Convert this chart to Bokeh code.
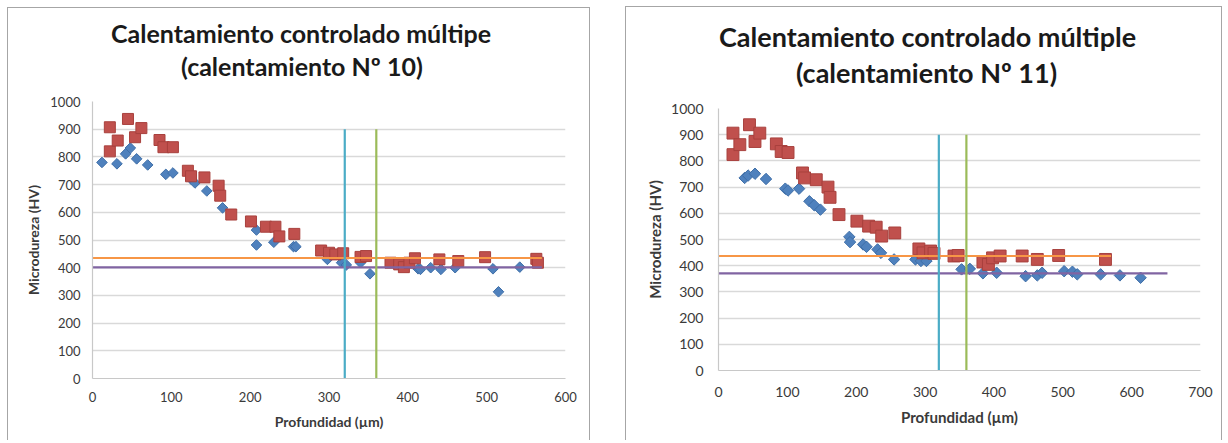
import numpy as np
from bokeh.plotting import figure
from bokeh.models import Range1d, FixedTicker, Title
from bokeh.embed import file_html
from bokeh.resources import INLINE

# ---------------- data: calentamiento Nº 10 ----------------
c10_title = ["Calentamiento controlado múltipe", "(calentamiento Nº 10)"]
c10_blue_x = [12, 31, 42, 48, 56, 70, 93, 102, 125, 130, 145, 165, 208, 208, 230, 255, 258,
              298, 316, 322, 340, 352, 413, 416, 429, 442, 460, 508, 515, 542]
c10_blue_y = [780, 775, 811, 832, 793, 771, 737, 742, 720, 706, 677, 616, 536, 482, 492, 476, 476,
              430, 418, 410, 418, 378, 396, 394, 400, 394, 400, 396, 313, 402]
c10_red_x = [22, 22, 32, 45, 54, 62, 85, 90, 102, 121, 125, 142, 160, 162, 176, 201, 220, 232, 237,
             256, 290, 300, 308, 318, 340, 347, 378, 389, 395, 402, 409, 440, 464, 498, 563, 565]
c10_red_y = [907, 820, 859, 937, 871, 904, 861, 835, 835, 750, 730, 726, 696, 660, 592, 567, 548, 548,
             513, 522, 462, 454, 448, 452, 439, 442, 418, 412, 402, 418, 434, 430, 424, 438, 432, 418]
c10_orange_x = [0, 570]
c10_orange_y = [435, 435]
c10_purple_x = [0, 570]
c10_purple_y = [401, 401]
c10_xticks = [0, 100, 200, 300, 400, 500, 600]

# ---------------- data: calentamiento Nº 11 ----------------
c11_title = ["Calentamiento controlado múltiple", "(calentamiento Nº 11)"]
c11_blue_x = [38, 43, 53, 69, 97, 101, 117, 132, 139, 148, 190, 191, 210, 215, 231, 236, 255,
              286, 294, 302, 353, 365, 384, 404, 446, 463, 470, 502, 514, 521, 555, 583, 613]
c11_blue_y = [735, 744, 751, 731, 694, 687, 694, 646, 631, 614, 510, 490, 481, 472, 462, 449, 424,
              424, 418, 418, 386, 388, 371, 373, 360, 363, 373, 379, 377, 367, 367, 363, 354]
c11_red_x = [21, 21, 31, 45, 53, 60, 84, 91, 101, 122, 125, 142, 159, 162, 175, 201, 218, 229, 237,
             256, 291, 297, 308, 313, 342, 348, 384, 392, 398, 409, 441, 463, 494, 562]
c11_red_y = [906, 824, 862, 938, 874, 906, 865, 836, 832, 754, 735, 728, 700, 661, 595, 570, 551, 547,
             513, 525, 464, 449, 456, 447, 437, 439, 414, 405, 430, 437, 437, 424, 439, 424]
c11_orange_x = [0, 570]
c11_orange_y = [437, 437]
c11_purple_x = [0, 652]
c11_purple_y = [371, 371]
c11_xticks = [0, 100, 200, 300, 400, 500, 600, 700]

# shared
y_ticks = [0, 100, 200, 300, 400, 500, 600, 700, 800, 900, 1000]
vline_cyan_x = [320, 320]
vline_green_x = [360, 360]
vline_y = [0, 900]
x_label = "Profundidad (µm)"
y_label = "Microdureza (HV)"

BLUE = "#4F81BD"
RED = "#C0504D"
GREEN = "#9BBB59"
PURPLE = "#8064A2"
CYAN = "#4BACC6"
ORANGE = "#F79646"
FONT = "Lato"
BORDER = "1.5px solid #a6a6a6"


def make_chart(width, height, mb, xticks, title, blue_x, blue_y, red_x, red_y,
               orange_x, orange_y, purple_x, purple_y, scale, t_offsets, t_standoffs, std, css):
    p = figure(width=width, height=height, title=None,
               x_range=Range1d(xticks[0], xticks[-1]), y_range=Range1d(0, 1000),
               output_backend="svg", toolbar_location=None,
               min_border_left=mb[0], min_border_right=mb[1],
               min_border_top=mb[2], min_border_bottom=mb[3])
    # second title line first (closest to the frame), then the first line above it
    for i in (1, 0):
        p.add_layout(Title(text=title[i], align="left", vertical_align="top",
                           offset=t_offsets[i], standoff=t_standoffs[i],
                           text_font=FONT, text_font_style="bold",
                           text_font_size=f"{25 * scale:.1f}px", text_color="#1a1a1a",
                           text_line_height=1.0), "above")
    p.outline_line_color = None
    p.background_fill_color = "white"
    p.border_fill_color = "white"
    p.xgrid.grid_line_color = None
    p.ygrid.ticker = FixedTicker(ticks=y_ticks)
    p.ygrid.grid_line_color = "#d9d9d9"
    p.ygrid.grid_line_width = 1.5
    p.xaxis.ticker = FixedTicker(ticks=xticks)
    p.yaxis.ticker = FixedTicker(ticks=y_ticks)
    for ax in (p.xaxis, p.yaxis):
        ax.axis_line_color = "#c8c8c8"
        ax.axis_line_width = 1.2
        ax.major_tick_line_color = None
        ax.minor_tick_line_color = None
        ax.major_tick_out = 0
        ax.major_tick_in = 0
        ax.major_label_text_font = FONT
        ax.major_label_text_font_size = f"{13 * scale:.1f}px"
        ax.major_label_text_color = "#3a3a3a"
        ax.axis_label_text_font = FONT
        ax.axis_label_text_font_style = "bold"
        ax.axis_label_text_font_size = f"{14 * scale:.1f}px"
        ax.axis_label_text_color = "#3a3a3a"
    p.xaxis.axis_label = x_label
    p.yaxis.axis_label = y_label
    p.yaxis.major_label_standoff = std[0]
    p.yaxis.axis_label_standoff = std[1]
    p.xaxis.major_label_standoff = std[2]
    p.xaxis.axis_label_standoff = std[3]

    p.scatter(blue_x, blue_y, marker="square", angle=np.pi / 4, size=7.5 * scale,
              fill_color=BLUE, line_color="#3f6fa8", line_width=1)
    p.scatter(red_x, red_y, marker="square", size=11 * scale,
              fill_color=RED, line_color="#a8403d", line_width=1)
    p.line(orange_x, orange_y, line_color=ORANGE, line_width=2.2)
    p.line(purple_x, purple_y, line_color=PURPLE, line_width=2.2)
    p.line(vline_cyan_x, vline_y, line_color=CYAN, line_width=2.2)
    p.line(vline_green_x, vline_y, line_color=GREEN, line_width=2.2)
    p.styles = css
    return p


css_l = {"position": "absolute", "left": "7px", "top": "7px",
         "border-top": BORDER, "border-left": BORDER, "border-right": BORDER}
css_r = {"position": "absolute", "left": "625px", "top": "6px",
         "border-top": BORDER, "border-left": BORDER, "border-right": BORDER}

p1 = make_chart(583, 433, (84, 26, 93, 63), c10_xticks, c10_title,
                c10_blue_x, c10_blue_y, c10_red_x, c10_red_y,
                c10_orange_x, c10_orange_y, c10_purple_x, c10_purple_y,
                1.0, (18.5, 88.5), (-32, 35.6), (12, 5, 13, 8), css_l)
p2 = make_chart(597, 434, (92, 23, 101, 71), c11_xticks, c11_title,
                c11_blue_x, c11_blue_y, c11_red_x, c11_red_y,
                c11_orange_x, c11_orange_y, c11_purple_x, c11_purple_y,
                1.08, (0.5, 77.5), (-31.6, 34.6), (15, 4, 16, 8), css_r)

open("out.html", "w").write(file_html([p1, p2], INLINE))
